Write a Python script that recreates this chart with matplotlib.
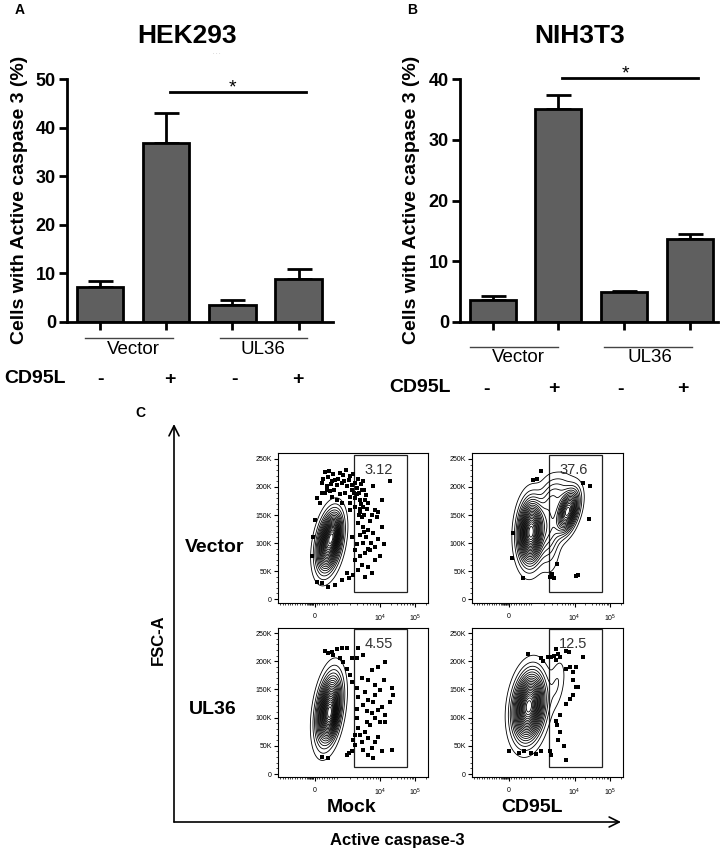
import numpy as np
import matplotlib
matplotlib.use("Agg")
import matplotlib.pyplot as plt
from matplotlib.patches import Rectangle, FancyArrowPatch

plt.rcParams['font.family'] = ['Liberation Sans', 'DejaVu Sans']
plt.rcParams['mathtext.default'] = 'regular'

# ---------------- data ----------------
cd95l_signs = ["-", "+", "-", "+"]
group_names = ["Vector", "UL36"]
hek_mean = [7.3, 36.8, 3.4, 8.9]
hek_err = [1.2, 6.3, 1.05, 2.1]
nih_mean = [3.7, 35.0, 4.9, 13.7]
nih_err = [0.5, 2.3, 0.25, 0.8]
hek_yticks = [0, 10, 20, 30, 40, 50]
nih_yticks = [0, 10, 20, 30, 40]

# flow cytometry: display-scale x (biexponential units), y = FSC-A in K
flow_xticks = [2.14, 4.0, 5.0]
flow_xticklabels = ["0", r"$10^4$", r"$10^5$"]
flow_yticks = [0, 50, 100, 150, 200, 250]
flow_yticklabels = ["0", "50K", "100K", "150K", "200K", "250K"]
gate_x = (3.26, 4.77)
gate_y = (13, 257)
gate_values = ["3.12", "37.6", "4.55", "12.5"]
row_labels = ["Vector", "UL36"]
col_labels = ["Mock", "CD95L"]

# population blobs: (center x, center y, sd x, sd y, rho, weight)
tl_blobs = [(2.55, 102, 0.21, 31, 0.35, 1.0), (2.68, 118, 0.12, 18, 0.3, 0.25)]
tr_blobs = [(2.76, 120, 0.21, 33, 0.10, 1.0), (3.80, 156, 0.19, 23, 0.45, 0.75),
            (3.50, 188, 0.25, 22, 0.30, 0.15), (3.28, 130, 0.18, 42, 0.0, 0.22)]
bl_blobs = [(2.54, 115, 0.21, 36, 0.35, 1.0), (2.60, 100, 0.12, 20, 0.2, 0.25)]
br_blobs = [(2.70, 120, 0.26, 35, 0.20, 1.0), (3.50, 160, 0.15, 28, 0.40, 0.08)]

tl_dots = [(2.43,227),(2.52,218),(2.67,224),(2.81,215),(2.95,221),(3.10,213),(3.24,224),(3.38,215),
           (3.52,210),(2.33,207),(2.48,201),(2.62,210),(2.76,204),(2.90,207),(3.05,201),(3.19,204),
           (3.33,198),(3.48,195),(2.43,189),(2.57,192),(3.00,189),(3.14,183),(3.29,180),(3.43,177),
           (3.57,177),(2.19,180),(2.29,171),(3.67,171),(3.86,159),(3.95,156),(4.05,177),(4.29,210),
           (3.81,201),(3.76,150),(3.90,147),(3.48,147),(3.38,135),(3.52,129),(3.67,123),(3.81,117),
           (3.95,108),(4.05,129),(4.10,99),(3.86,93),(3.71,88),(3.57,82),(3.43,76),(3.29,70),
           (3.48,61),(3.67,58),(3.38,52),(3.24,43),(3.10,37),(3.05,46),(2.90,34),(2.71,25),
           (2.52,22),(2.33,28),(2.19,31),(3.86,70),(4.00,76),(3.76,46),(3.57,40),(2.14,141),
           (2.10,111),(2.05,76),(3.19,111),(3.33,99),(3.29,88),(3.14,159),(3.29,165),(3.43,156),
           (2.90,171),(2.76,177),(2.62,183),(3.40,190),(3.45,170),(3.42,160),(3.40,150),
           (2.38,215),(2.55,228),(2.60,205),(2.72,212),(2.85,225),(2.98,210),(3.02,230),(3.15,220),
           (3.20,195),(3.28,208),(3.35,188),(3.45,205),(3.55,195),(3.60,185),(3.15,172),(3.25,190),
           (2.50,195),(2.35,190),(2.70,195),(2.85,188),(3.62,160),(3.55,150),(3.50,165),(3.70,140),
           (3.60,110),(3.75,100),(3.65,90),(3.50,100),(3.42,115),(3.55,120)]
tr_dots = [(2.82,213),(2.92,215),(3.04,229),(4.25,207),(4.44,201),(4.42,143),(3.51,62),(4.04,41),
           (4.09,43),(3.35,45),(3.41,38),(3.30,40),(2.54,37),(2.22,73),(2.25,117)]
bl_dots = [(2.43,218),(2.52,214),(2.67,211),(2.76,222),(2.90,223),(3.05,224),(3.38,223),(3.33,205),
           (2.95,199),(3.05,187),(3.14,176),(3.19,164),(3.52,211),(3.76,184),(3.95,190),(4.14,199),
           (4.10,167),(4.33,152),(4.38,140),(4.29,128),(4.00,149),(3.86,140),(3.67,131),(3.52,122),
           (3.62,111),(3.76,108),(3.86,99),(3.95,113),(4.05,119),(4.14,105),(4.14,93),(3.71,87),
           (3.57,75),(3.43,69),(3.48,57),(3.67,63),(3.86,57),(3.95,66),(3.76,46),(3.67,34),
           (3.81,28),(4.05,40),(4.33,43),(3.52,43),(3.38,81),(3.33,99),(3.33,116),(3.29,51),
           (3.19,40),(3.10,37),(3.05,34),(2.33,31),(2.52,28),(3.33,152),(3.38,137),(3.29,69),
           (3.24,60),(3.48,170),(3.67,167),(3.86,158),(3.57,146),(3.81,128),(4.00,93),(3.62,93),
           (3.19,205),(2.86,205),(2.62,217)]
br_dots = [(2.67,212),(3.05,205),(3.24,208),(3.33,207),(3.40,210),(3.46,222),(3.52,212),(3.57,208),
           (3.48,203),(3.76,218),(3.84,217),(4.24,207),(3.74,187),(3.86,189),(4.03,190),(3.95,180),
           (3.95,167),(4.03,155),(4.10,154),(3.94,140),(3.86,133),(3.76,125),(3.57,105),(3.46,94),
           (3.50,87),(3.57,74),(3.52,60),(3.69,50),(3.74,25),(2.14,40),(2.43,38),(2.55,41),
           (2.76,38),(2.90,36),(3.05,40),(3.29,41),(3.33,34),(3.10,200)]

# ---------------- figure ----------------
W, H = 726, 852
fig = plt.figure(figsize=(W / 100, H / 100), dpi=100)


def rect(l, t, r, b):
    return [l / W, 1 - b / H, (r - l) / W, (b - t) / H]


def ftext(x, y, s, **kw):
    fig.text(x / W, 1 - y / H, s, **kw)


BAR_COLOR = '#5f5f5f'


def bar_panel(r, means, errs, yticks, xlim, sig, grp_y, grp_lines, title, title_xy,
              star_xy, ylabel_xy, grp_label_xy, sign_xy, cd_xy):
    ax = fig.add_axes(rect(*r))
    x = np.arange(len(means))
    ax.errorbar(x, means, yerr=[np.zeros(len(errs)), errs], fmt='none', ecolor='black',
                elinewidth=2, capsize=9, capthick=2, zorder=1)
    ax.bar(x, means, width=0.7, color=BAR_COLOR, edgecolor='black', linewidth=2, zorder=2)
    ax.set_xlim(*xlim)
    ax.set_ylim(yticks[0], yticks[-1])
    ax.set_yticks(yticks)
    ax.set_xticks(x)
    ax.set_xticklabels([])
    for s in ['top', 'right']:
        ax.spines[s].set_visible(False)
    for s in ['left', 'bottom']:
        ax.spines[s].set_linewidth(2)
    ax.tick_params(axis='both', direction='out', length=6, width=2)
    ax.tick_params(axis='y', labelsize=13, pad=2)
    for lab in ax.get_yticklabels():
        lab.set_fontweight('bold')
    # significance line
    ax.plot([sig[1], sig[2]], [sig[0], sig[0]], color='black', lw=2, clip_on=False)
    # group lines
    for (a, b) in grp_lines:
        ax.plot([a, b], [grp_y, grp_y], color='#444444', lw=1, clip_on=False)
    ftext(*star_xy, '*', fontsize=14, ha='center', va='center')
    ftext(*title_xy, title, fontsize=19, fontweight='bold', ha='center', va='center')
    ftext(*ylabel_xy, 'Cells with Active caspase 3 (%)', fontsize=14, fontweight='bold',
          rotation=90, ha='center', va='center')
    for (gx, gy), name in zip(grp_label_xy, group_names):
        ftext(gx, gy, name, fontsize=13.5, ha='center', va='center')
    for (sx, sy), sgn in zip(sign_xy, cd95l_signs):
        ftext(sx, sy, sgn, fontsize=14, fontweight='bold', ha='center', va='center')
    ftext(*cd_xy, 'CD95L', fontsize=14, fontweight='bold', ha='right', va='center')
    return ax


bar_panel((67, 79, 333, 322), hek_mean, hek_err, hek_yticks, (-0.5, 3.52),
          (47.3, 1.06, 3.11), -3.3, [(-0.23, 1.10), (1.81, 3.13)], 'HEK293', (187, 36),
          (232, 88), (20, 200), [(133, 349), (263, 349)],
          [(100, 379), (170, 379), (235, 379), (298, 379)], (66, 378))
ftext(217, 53, '. . .', fontsize=4, color='#999999', ha='center', va='center')

bar_panel((460, 79, 718, 322), nih_mean, nih_err, nih_yticks, (-0.5, 3.43),
          (40.2, 1.05, 3.12), -4.1, [(-0.35, 0.99), (1.69, 3.03)], 'NIH3T3', (580, 36),
          (625, 74), (412, 200), [(518, 358), (650, 358)],
          [(486, 389), (554, 389), (620, 389), (683, 389)], (451, 388))

ftext(20, 10, 'A', fontsize=10, fontweight='bold', ha='center', va='center')
ftext(412, 10, 'B', fontsize=10, fontweight='bold', ha='center', va='center')
ftext(140, 413, 'C', fontsize=10, fontweight='bold', ha='center', va='center')

# ---------------- flow panels ----------------
flow_xlim = (1.086, 5.371)
minor_x = (list(np.arange(1.15, 2.10, 0.07)) + list(np.arange(1.95, 2.12, 0.025)) +
           list(np.arange(2.20, 2.78, 0.07)) +
           [2.77 + 1.23 * np.log10(k) for k in range(2, 10)] +
           [4 + np.log10(k) for k in range(2, 10)] + [5 + np.log10(k) for k in range(2, 3)])


def flow_panel(r, ylim, blobs, dots, gval):
    ax = fig.add_axes(rect(*r))
    ax.set_xlim(*flow_xlim)
    ax.set_ylim(*ylim)
    xs = np.linspace(flow_xlim[0], flow_xlim[1], 400)
    ys = np.linspace(ylim[0], ylim[1], 400)
    X, Y = np.meshgrid(xs, ys)
    Z = np.zeros_like(X)
    for (cx, cy, sx, sy, rho, w) in blobs:
        dx = (X - cx) / sx
        dy = (Y - cy) / sy
        Z += w * np.exp(-(dx * dx - 2 * rho * dx * dy + dy * dy) / (2 * (1 - rho * rho)))
    levels = Z.max() * np.linspace(0.035, 0.96, 21)
    ax.contour(X, Y, Z, levels=levels, colors='black', linewidths=0.6)
    d = np.array(dots)
    ax.plot(d[:, 0], d[:, 1], 's', color='black', ms=2.3, mew=0)
    ax.add_patch(Rectangle((gate_x[0], gate_y[0]), gate_x[1] - gate_x[0], gate_y[1] - gate_y[0],
                           fill=False, lw=0.9, ec='#222222'))
    ax.text(3.96, 230, gval, fontsize=10.5, color='#333333', ha='center', va='center')
    ax.set_yticks(flow_yticks)
    ax.set_yticklabels(flow_yticklabels)
    ax.set_yticks(np.arange(0, 260, 10), minor=True)
    ax.set_xticks(flow_xticks)
    ax.set_xticklabels(flow_xticklabels)
    ax.set_xticks(minor_x, minor=True)
    ax.tick_params(which='major', direction='out', length=3, width=0.8, labelsize=5, pad=1.5)
    ax.tick_params(axis='x', which='major', pad=4)
    ax.tick_params(which='minor', direction='out', length=1.6, width=0.5)
    for s in ax.spines.values():
        s.set_linewidth(0.8)
    return ax


flow_panel((278, 453, 428, 603), (-7.1, 260.7), tl_blobs, tl_dots, gate_values[0])
flow_panel((472, 453, 623, 603), (-7.1, 260.7), tr_blobs, tr_dots, gate_values[1])
flow_panel((278, 628, 428, 777), (-5.3, 258.9), bl_blobs, bl_dots, gate_values[2])
flow_panel((472, 628, 623, 777), (-5.3, 258.9), br_blobs, br_dots, gate_values[3])

ftext(215, 548, row_labels[0], fontsize=14, fontweight='bold', ha='center', va='center')
ftext(213, 710, row_labels[1], fontsize=14, fontweight='bold', ha='center', va='center')
ftext(352, 808, col_labels[0], fontsize=14, fontweight='bold', ha='center', va='center')
ftext(532, 808, col_labels[1], fontsize=14, fontweight='bold', ha='center', va='center')
ftext(158, 640, 'FSC-A', fontsize=12, fontweight='bold', rotation=90, ha='center', va='center')
ftext(397, 841, 'Active caspase-3', fontsize=12, fontweight='bold', ha='center', va='center')

origin = (174 / W, 1 - 822 / H)
for tip in [(174 / W, 1 - 424 / H), (621 / W, 1 - 822 / H)]:
    fig.add_artist(FancyArrowPatch(origin, tip, transform=fig.transFigure, arrowstyle='->',
                                   mutation_scale=18, lw=1.2, color='black',
                                   shrinkA=0, shrinkB=0))

fig.savefig('out.png', dpi=100)
